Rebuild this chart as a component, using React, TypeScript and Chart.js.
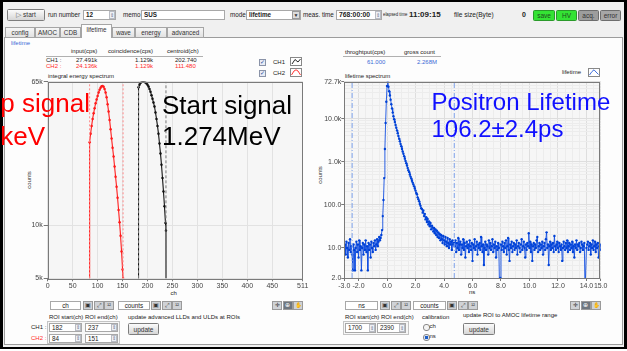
import React, { useEffect, useRef } from 'react';
import { Chart, registerables } from 'chart.js';

Chart.register(...registerables);

const FONT = '"Liberation Sans", Arial, sans-serif';

// ---------- integral energy spectrum (left) ----------
const CH2_CHANNELS = [83, 84, 86, 88, 90, 92, 94, 96, 98, 100, 102, 104, 106, 108, 110, 112, 114, 116, 118, 120, 122, 124, 126, 128, 130, 132, 134, 136, 138, 140, 142, 144, 146, 148, 150, 151];
const CH2_COUNTS = [1, 29500, 33000, 36500, 40000, 43000, 46000, 49000, 51500, 54000, 56500, 58500, 60000, 61300, 61500, 60800, 59000, 56500, 53000, 48500, 44000, 39500, 35000, 31000, 27500, 24500, 21500, 18800, 16500, 14300, 12200, 10400, 8700, 7100, 5600, 5000];
const CH1_CHANNELS = [181, 182, 184, 186, 188, 190, 192, 194, 196, 198, 200, 202, 204, 206, 208, 210, 212, 214, 216, 218, 220, 222, 224, 226, 228, 230, 232, 234, 236, 237, 238];
const CH1_COUNTS = [1, 60500, 62500, 64000, 64800, 65000, 65000, 64800, 64300, 63500, 62500, 61000, 59000, 57000, 54500, 52000, 49500, 47000, 43500, 40000, 36500, 33000, 29000, 25500, 22000, 18500, 15500, 12800, 10300, 9300, 1];
const CH1_ROI = [182, 237];
const CH2_ROI = [84, 151];
const ENERGY_X_TICKS = [0, 50, 100, 150, 200, 250, 300, 350, 400, 450, 511];
const ENERGY_Y_TICKS = [5000, 10000, 65000];
const ENERGY_Y_LABELS = ['5k', '10k', '65k'];

// ---------- lifetime spectrum (right) ----------
const LIFETIME_START_NS = -3.0;
const LIFETIME_BIN_NS = 0.05;
const LIFETIME_COUNTS = [
  // -3.00 .. -0.55
  9, 12, 7, 14, 10, 6, 13, 9, 16, 8,
  11, 7, 3, 12, 9, 3, 10, 14, 8, 12,
  6, 15, 9, 11, 3, 10, 13, 7, 12, 9,
  15, 8, 11, 3, 13, 9, 12, 6, 14, 10,
  8, 13, 11, 15, 9, 12, 16, 11, 14, 18,
  // -0.50 .. -0.05
  15, 17, 20, 26, 55, 130, 420, 2000, 8000, 25000,
  // 0.00 .. 2.40
  58000, 72700, 56000, 44000, 35000, 28000, 22000, 17500, 14000, 11500,
  9800, 8400, 7200, 6200, 5400, 4650, 4000, 3450, 3000, 2620,
  2300, 2000, 1750, 1540, 1350, 1190, 1050, 930, 820, 720,
  640, 585, 510, 455, 410, 365, 330, 300, 270, 240,
  215, 190, 176, 150, 135, 122, 105, 95, 84,
  // 2.45 .. 4.70
  80, 66, 74, 55, 62, 46, 52, 40, 47, 35,
  41, 32, 38, 27, 33, 30, 24, 29, 22, 27,
  20, 25, 18, 23, 17, 21, 15, 20, 16, 13,
  19, 15, 12, 18, 14, 11, 17, 13, 10, 16,
  12, 14, 9, 15, 12, 13,
  // 4.75 .. 15.00
  11, 15, 8, 13, 10, 17, 9, 12, 14, 7,
  12, 10, 16, 9, 13, 6, 11, 14, 10, 12,
  8, 15, 11, 9, 13, 5, 12, 10, 16, 9,
  11, 14, 7, 12, 10, 13, 9, 18, 11, 8,
  12, 4, 10, 14, 9, 12, 11, 7, 15, 10,
  13, 9, 11, 16, 8, 12, 10, 14, 6, 11,
  9, 13, 10, 1, 2, 12, 9, 14, 11, 8,
  13, 10, 15, 7, 11, 17, 9, 5, 12, 10,
  14, 8, 11, 13, 9, 12, 10, 15, 7, 11,
  13, 10, 8, 12, 16, 9, 11, 14, 10, 6,
  12, 9, 13, 11, 22, 10, 14, 8, 12, 5,
  11, 13, 9, 12, 10, 15, 18, 8, 11, 13,
  9, 12, 10, 14, 7, 11, 13, 9, 16, 23,
  10, 12, 4, 11, 14, 9, 12, 10, 13, 8,
  19, 11, 9, 12, 14, 10, 8, 13, 11, 9,
  12, 5, 10, 14, 11, 9, 13, 10, 15, 8,
  11, 13, 9, 12, 10, 14, 8, 11, 6, 12,
  10, 15, 9, 12, 11, 13, 8, 10, 14, 12,
  9, 11, 13, 1, 1, 10, 12, 14, 9, 11,
  13, 7, 12, 10, 15, 9, 11, 14, 8, 12,
  10, 13, 6, 11, 12, 9,
];
const LIFETIME_CURSORS_NS = [-2.45, 4.72];
const LIFETIME_X_TICKS = [-3, -2, 0, 2, 4, 6, 8, 10, 12, 14, 15];
const LIFETIME_X_LABELS = ['-3.0', '-2.0', '0.0', '2.0', '4.0', '6.0', '8.0', '10.0', '12.0', '14.0', '15.0'];
const LIFETIME_Y_TICKS = [2, 10, 100, 1000, 10000, 72700];
const LIFETIME_Y_LABELS = ['2.0', '10.0', '100.0', '1.0k', '10.0k', '72.7k'];

const frame = (bg: string) => ({
  id: 'plotFrame',
  beforeDraw(chart: any) {
    const { ctx, chartArea: a } = chart;
    ctx.save();
    ctx.fillStyle = bg;
    ctx.fillRect(a.left, a.top, a.right - a.left, a.bottom - a.top);
    ctx.restore();
  },
  afterDraw(chart: any) {
    const { ctx, chartArea: a } = chart;
    ctx.save();
    ctx.strokeStyle = '#7a7a7a';
    ctx.lineWidth = 1;
    ctx.strokeRect(Math.round(a.left) + 0.5, Math.round(a.top) + 0.5, Math.round(a.right - a.left) - 1, Math.round(a.bottom - a.top));
    ctx.restore();
  },
});

const pts = (xs: number[], ys: number[]) => xs.map((x, i) => ({ x, y: ys[i] }));
const tickFont = { family: FONT, size: 7 };

function EnergyChart() {
  const ref = useRef<HTMLCanvasElement>(null);
  useEffect(() => {
    const yMin = ENERGY_Y_TICKS[0];
    const yMax = ENERGY_Y_TICKS[ENERGY_Y_TICKS.length - 1];
    const cursor = (x: number, color: string, dash: number[]) => ({
      data: [{ x, y: yMin }, { x, y: yMax }],
      borderColor: color, borderWidth: 1, borderDash: dash, pointRadius: 0,
    });
    const curve = (xs: number[], ys: number[], color: string) => ({
      data: pts(xs, ys),
      borderColor: color, borderWidth: 1.1,
      pointRadius: (c: any) => (c.raw && c.raw.y >= yMin ? 1.25 : 0),
      pointBackgroundColor: color, pointBorderWidth: 0,
    });
    const chart = new Chart(ref.current!, {
      type: 'line',
      data: {
        datasets: [
          cursor(CH2_ROI[0], '#ff8a8a', [2, 2]),
          cursor(CH2_ROI[1], '#ff8a8a', [2, 2]),
          cursor(CH1_ROI[0], '#777777', [3, 2]),
          cursor(CH1_ROI[1], '#777777', [3, 2]),
          curve(CH2_CHANNELS, CH2_COUNTS, '#ff1c1c'),
          curve(CH1_CHANNELS, CH1_COUNTS, '#111111'),
        ] as any,
      },
      options: {
        animation: false,
        responsive: false,
        maintainAspectRatio: false,
        events: [],
        layout: { padding: { left: 0, top: 11.7, right: 9.3, bottom: 0 } },
        plugins: { legend: { display: false }, tooltip: { enabled: false } },
        scales: {
          x: {
            type: 'linear', min: 0, max: 511,
            afterBuildTicks: (s: any) => { s.ticks = ENERGY_X_TICKS.map((v) => ({ value: v })); },
            afterFit: (s: any) => { s.height = 16.7; },
            ticks: { autoSkip: false, maxRotation: 0, minRotation: 0, padding: 1, color: '#444', font: tickFont, callback: (v: any) => String(v) },
            grid: { color: '#e2e2e2', tickLength: 3, tickColor: '#777' },
            border: { display: false },
          },
          y: {
            type: 'logarithmic', min: yMin, max: yMax,
            afterBuildTicks: (s: any) => { s.ticks = ENERGY_Y_TICKS.map((v) => ({ value: v })); },
            afterFit: (s: any) => { s.width = 47.7; },
            ticks: { autoSkip: false, padding: 1, color: '#444', font: tickFont, callback: (v: any) => ENERGY_Y_LABELS[ENERGY_Y_TICKS.indexOf(v)] ?? '' },
            grid: { color: '#e2e2e2', tickLength: 4, tickColor: '#777' },
            border: { display: false },
          },
        },
      } as any,
      plugins: [frame('#f6f6f6')],
    });
    return () => chart.destroy();
  }, []);
  return <canvas ref={ref} width={312} height={225} style={{ position: 'absolute', left: 0, top: 70, width: 312, height: 225 }} />;
}

function LifetimeChart() {
  const ref = useRef<HTMLCanvasElement>(null);
  useEffect(() => {
    const yMin = LIFETIME_Y_TICKS[0];
    const yMax = LIFETIME_Y_TICKS[LIFETIME_Y_TICKS.length - 1];
    const xMin = LIFETIME_X_TICKS[0];
    const xMax = LIFETIME_X_TICKS[LIFETIME_X_TICKS.length - 1];
    const ns = LIFETIME_COUNTS.map((_, i) => LIFETIME_START_NS + i * LIFETIME_BIN_NS);
    // grid helpers (styling only)
    const xGrid: number[] = [];
    for (let v = xMin; v <= xMax + 1e-9; v += 0.5) xGrid.push(Math.round(v * 10) / 10);
    const xAll = Array.from(new Set([...xGrid, ...LIFETIME_X_TICKS])).sort((a, b) => a - b);
    const yAll: number[] = [...LIFETIME_Y_TICKS];
    for (const d of [1, 10, 100, 1000, 10000]) for (let m = 2; m <= 9; m++) { const v = m * d; if (v > yMin && v < yMax && !yAll.includes(v)) yAll.push(v); }
    yAll.sort((a, b) => a - b);
    const isMajX = (v: number) => LIFETIME_X_TICKS.includes(v);
    const isMajY = (v: number) => LIFETIME_Y_TICKS.includes(v);
    const cursor = (x: number) => ({
      data: [{ x, y: yMin }, { x, y: yMax }],
      borderColor: '#7da2ea', borderWidth: 1, borderDash: [5, 2, 1, 2], pointRadius: 0,
    });
    const chart = new Chart(ref.current!, {
      type: 'line',
      data: {
        datasets: [
          ...LIFETIME_CURSORS_NS.map(cursor),
          {
            data: pts(ns, LIFETIME_COUNTS),
            borderColor: 'rgba(20,80,225,0.9)', borderWidth: 1,
            pointRadius: (c: any) => (c.raw && c.raw.y >= yMin ? 1.2 : 0),
            pointBackgroundColor: '#0042d6', pointBorderWidth: 0,
          },
        ] as any,
      },
      options: {
        animation: false,
        responsive: false,
        maintainAspectRatio: false,
        events: [],
        layout: { padding: { left: 0, top: 11.8, right: 26.3, bottom: 0 } },
        plugins: { legend: { display: false }, tooltip: { enabled: false } },
        scales: {
          x: {
            type: 'linear', min: xMin, max: xMax,
            afterBuildTicks: (s: any) => { s.ticks = xAll.map((v) => ({ value: v })); },
            afterFit: (s: any) => { s.height = 17; },
            ticks: {
              autoSkip: false, maxRotation: 0, minRotation: 0, padding: 1, color: '#444', font: tickFont,
              callback: (v: any) => { const i = LIFETIME_X_TICKS.indexOf(v); return i >= 0 ? LIFETIME_X_LABELS[i] : ''; },
            },
            grid: {
              color: (c: any) => (c.tick && isMajX(c.tick.value) ? '#dedede' : '#ececec'),
              tickLength: 3,
              tickColor: (c: any) => (c.tick && isMajX(c.tick.value) ? '#777' : 'rgba(0,0,0,0)'),
            },
            border: { display: false },
          },
          y: {
            type: 'logarithmic', min: yMin, max: yMax,
            afterBuildTicks: (s: any) => { s.ticks = yAll.map((v) => ({ value: v })); },
            afterFit: (s: any) => { s.width = 32.3; },
            ticks: {
              autoSkip: false, padding: 0, color: '#444', font: tickFont,
              callback: (v: any) => { const i = LIFETIME_Y_TICKS.indexOf(v); return i >= 0 ? LIFETIME_Y_LABELS[i] : ''; },
            },
            grid: {
              color: (c: any) => (c.tick && isMajY(c.tick.value) ? '#dedede' : '#ececec'),
              tickLength: 3,
              tickColor: (c: any) => (c.tick && isMajY(c.tick.value) ? '#777' : 'rgba(0,0,0,0)'),
            },
            border: { display: false },
          },
        },
      } as any,
      plugins: [frame('#f6f6f6')],
    });
    return () => chart.destroy();
  }, []);
  return <canvas ref={ref} width={315} height={225} style={{ position: 'absolute', left: 312, top: 70, width: 315, height: 225 }} />;
}

// ---------- small UI helpers ----------
function Txt({ x, y, s = 6.5, c = '#222', b = false, sx = 1, children }: any) {
  return (
    <div style={{ position: 'absolute', left: x, top: y - s * 0.6, fontSize: s, lineHeight: `${s * 1.2}px`, color: c, fontWeight: b ? 700 : 400, whiteSpace: 'nowrap', fontFamily: FONT, transform: sx !== 1 ? `scaleX(${sx})` : undefined, transformOrigin: 'left center' }}>
      {children}
    </div>
  );
}

function Box({ x, y, w, h, bg = '#fff', bd = '#a8a8a8', r = 0, children, style }: any) {
  return (
    <div style={{ position: 'absolute', left: x, top: y, width: w, height: h, boxSizing: 'border-box', background: bg, border: `1px solid ${bd}`, borderRadius: r, overflow: 'hidden', ...style }}>
      {children}
    </div>
  );
}

function Btn({ x, y, w, h, label, bg = 'linear-gradient(#fbfbfb,#d6d6d6)', bd = '#7d7d7d', c = '#333', s = 6.5 }: any) {
  return (
    <Box x={x} y={y} w={w} h={h} bg={bg} bd={bd} r={1.5}>
      <div style={{ width: '100%', height: '100%', display: 'flex', alignItems: 'center', justifyContent: 'center', fontSize: s, color: c, fontFamily: FONT, whiteSpace: 'nowrap' }}>{label}</div>
    </Box>
  );
}

function Spin({ x, y, h = 9 }: any) {
  return (
    <Box x={x} y={y} w={6} h={h} bg="#eef0f4" bd="#b9bcc4">
      <div style={{ fontSize: 5, lineHeight: `${h - 2}px`, textAlign: 'center', color: '#6a7590' }}>⇕</div>
    </Box>
  );
}

function Field({ x, y, w, h = 9, text, b = true, center = false, spin = false, s = 6.3 }: any) {
  return (
    <>
      <Box x={x} y={y} w={w} h={h}>
        <div style={{ fontSize: s, lineHeight: `${h - 2}px`, paddingLeft: center ? 0 : 2, textAlign: center ? 'center' : 'left', fontWeight: b ? 700 : 400, color: '#222', fontFamily: FONT, whiteSpace: 'nowrap' }}>{text}</div>
      </Box>
      {spin ? <Spin x={x + w - 7} y={y + 1} h={h - 2} /> : null}
    </>
  );
}

function Icons({ x, y, glyphs, dark }: any) {
  return (
    <>
      {glyphs.map((g: string, i: number) => (
        <Box key={i} x={x + i * 10.5} y={y} w={10} h={9} bg={dark === i ? '#6f7780' : '#cfd2d6'} bd="#9a9a9a">
          <div style={{ fontSize: 5.5, lineHeight: '7px', textAlign: 'center', color: dark === i ? '#fff' : '#333' }}>{g}</div>
        </Box>
      ))}
    </>
  );
}

function Tab({ x, w, label, sel }: any) {
  return (
    <div style={{ position: 'absolute', left: x, top: sel ? 24 : 26.5, width: w, height: sel ? 14 : 11, boxSizing: 'border-box', border: '1px solid #a5a5a5', borderBottom: sel ? 'none' : '1px solid #a5a5a5', background: sel ? '#fdfdfd' : 'linear-gradient(#f6f6f6,#e2e2e2)', fontSize: 6.3, lineHeight: sel ? '10px' : '9px', textAlign: 'center', color: '#333', fontFamily: FONT, zIndex: sel ? 2 : 1 }}>
      {label}
    </div>
  );
}

function Check({ x, y }: any) {
  return (
    <Box x={x} y={y} w={7} h={7} bg="#e8ecf5" bd="#8a93a8">
      <div style={{ fontSize: 6, lineHeight: '5px', textAlign: 'center', color: '#2b4a9a' }}>✓</div>
    </Box>
  );
}

function LegendIcon({ x, y, color, shape }: any) {
  return (
    <Box x={x} y={y} w={12} h={9} bg="#fff" bd="#888">
      <svg width={10} height={7} style={{ display: 'block' }}>
        <polyline points={shape} fill="none" stroke={color} strokeWidth={0.9} />
      </svg>
    </Box>
  );
}

function Radio({ x, y, on }: any) {
  return (
    <div style={{ position: 'absolute', left: x, top: y, width: 5, height: 5, borderRadius: 3, border: '1px solid #8a8a8a', background: on ? 'radial-gradient(#1d5fc9 45%, #dfe6f3 50%)' : '#f4f4f4' }} />
  );
}

export default function App() {
  const red = '#ff2a2a';
  return (
    <div style={{ position: 'relative', width: 627, height: 351, overflow: 'hidden', background: '#ffffff', fontFamily: FONT }}>
      <style>{'body{margin:0}'}</style>
      {/* window area */}
      <div style={{ position: 'absolute', left: 0, top: 0, width: 627, height: 349, boxSizing: 'border-box', borderStyle: 'solid', borderColor: '#000', borderWidth: '2.5px 3px 2.5px 3px', background: '#f0f0f0' }} />
      {/* toolbar */}
      <Btn x={7} y={9} w={38} h={12} label={<span><span style={{ color: '#666' }}>▷</span> start</span>} />
      <Txt x={48} y={15} s={6.3}>run number</Txt>
      <Field x={83} y={10} w={33} h={10} text="12" spin />
      <Txt x={123} y={15} s={6.3}>memo</Txt>
      <Field x={141} y={10} w={84} h={10} text="SUS" />
      <Txt x={230} y={15} s={6.3}>mode</Txt>
      <Field x={246} y={10} w={55} h={10} text="lifetime" />
      <Box x={292} y={11} w={8} h={8} bg="#dcdcdc" bd="#999"><div style={{ fontSize: 5, lineHeight: '6px', textAlign: 'center', color: '#333' }}>▼</div></Box>
      <Txt x={303} y={15} s={6.3}>meas. time</Txt>
      <Field x={336} y={10} w={46} h={10} text="768:00:00" s={6.8} spin />
      <Txt x={383} y={15} s={6} sx={0.72}>elapsed time</Txt>
      <Txt x={409} y={15} s={8} b>11:09:15</Txt>
      <Txt x={454} y={15} s={6.6}>file size(Byte)</Txt>
      <Txt x={522} y={15} s={7} b>0</Txt>
      <Btn x={533} y={10} w={22} h={11} label="save" bg="#34e334" bd="#2a9a2a" c="#1e4d1e" />
      <Btn x={556} y={10} w={21} h={11} label="HV" bg="#34e334" bd="#2a9a2a" c="#1e4d1e" />
      <Btn x={578} y={10} w={21} h={11} label="acq." bg="#9d9d9d" bd="#6d6d6d" c="#333" />
      <Btn x={600} y={10} w={21} h={11} label="error" bg="#a6a6a6" bd="#6d6d6d" c="#333" />
      {/* panel */}
      <div style={{ position: 'absolute', left: 4, top: 37, width: 619, height: 308, boxSizing: 'border-box', border: '1px solid #9c9c9c', background: '#fdfdfd' }} />
      <Tab x={5} w={30} label="config" />
      <Tab x={35} w={25} label="AMOC" />
      <Tab x={60} w={21} label="CDB" />
      <Tab x={81} w={31} label="lifetime" sel />
      <Tab x={112} w={23} label="wave" />
      <Tab x={135} w={32} label="energy" />
      <Tab x={167} w={37} label="advanced" />
      <Txt x={11} y={43.5} s={6} c="#3a6ad6">lifetime</Txt>

      {/* left header */}
      <Txt x={71} y={51.5} s={6}>input(cps)</Txt>
      <Txt x={108} y={51.5} s={6}>coincidence(cps)</Txt>
      <Txt x={167} y={51.5} s={6}>centroid(ch)</Txt>
      <div style={{ position: 'absolute', left: 46, top: 56, width: 157, height: 1, background: '#b0b0b0' }} />
      <Txt x={46} y={60.8} s={6}>CH1 :</Txt>
      <Txt x={76} y={60.8} s={6}>27.491k</Txt>
      <Txt x={135} y={60.8} s={6}>1.129k</Txt>
      <Txt x={175} y={60.8} s={6}>202.740</Txt>
      <Txt x={46} y={66.3} s={6} c={red}>CH2 :</Txt>
      <Txt x={76} y={66.3} s={6} c={red}>24.136k</Txt>
      <Txt x={135} y={66.3} s={6} c={red}>1.129k</Txt>
      <Txt x={175} y={66.3} s={6} c={red}>111.480</Txt>
      <Check x={259} y={59} />
      <Check x={259} y={70} />
      <Txt x={273} y={62.5} s={6}>CH1</Txt>
      <Txt x={273} y={73.5} s={6}>CH2</Txt>
      <LegendIcon x={290} y={57} color="#111" shape="1,6 4,1.5 7,4 9.5,1" />
      <LegendIcon x={290} y={68} color="#ff2020" shape="0.5,6 3,2 5,0.8 7,2 9.5,6" />
      <Txt x={48} y={76.5} s={6}>integral energy spectrum</Txt>
      <div style={{ position: 'absolute', left: 28.5, top: 180, transform: 'translate(-50%,-50%) rotate(-90deg)', fontSize: 6, color: '#333', whiteSpace: 'nowrap' }}>counts</div>
      <Txt x={170.5} y={294} s={6}>ch</Txt>

      {/* left footer */}
      <Field x={50} y={301} w={31} text="ch" b={false} center />
      <Icons x={83} y={301} glyphs={['▣', '⤢', '¹²']} />
      <Field x={118} y={301} w={32} text="counts" b={false} center />
      <Icons x={151} y={301} glyphs={['▣', '⤢', '¹²']} />
      <Icons x={272} y={301} glyphs={['✛', '⊕', '✋']} dark={1} />
      <Txt x={49} y={317.5} s={6}>ROI start(ch) ROI end(ch)</Txt>
      <Txt x={128} y={317.5} s={6}>update advanced LLDs and ULDs at ROIs</Txt>
      <Box x={47} y={321} w={73} h={23} bg="#f7f7f7" bd="#c4c4c4" />
      <Txt x={31} y={327.5} s={6}>CH1 :</Txt>
      <Txt x={31} y={338.5} s={6} c={red}>CH2 :</Txt>
      <Field x={49} y={323} w={33} text="182" b={false} spin />
      <Field x={85} y={323} w={33} text="237" b={false} spin />
      <Field x={49} y={334} w={33} text="84" b={false} spin />
      <Field x={85} y={334} w={33} text="151" b={false} spin />
      <Btn x={128} y={323} w={31} h={12} label="update" />

      {/* right header */}
      <Txt x={345} y={53} s={6}>throghtput(cps)</Txt>
      <Txt x={404} y={53} s={6}>gross count</Txt>
      <div style={{ position: 'absolute', left: 343, top: 56, width: 98, height: 1, background: '#b0b0b0' }} />
      <Txt x={367} y={62.5} s={6} c="#3a6ad6">61.000</Txt>
      <Txt x={417} y={62.5} s={6} c="#3a6ad6">2.268M</Txt>
      <Txt x={562} y={72.5} s={6}>lifetime</Txt>
      <LegendIcon x={588} y={68} color="#2a5fd8" shape="0.5,6 3,2.5 5,0.8 7,3 9.5,5.5" />
      <Txt x={345} y={76.5} s={6}>lifetime spectrum</Txt>
      <div style={{ position: 'absolute', left: 320, top: 175, transform: 'translate(-50%,-50%) rotate(-90deg)', fontSize: 6, color: '#333', whiteSpace: 'nowrap' }}>counts</div>
      <Txt x={469} y={293} s={6}>ns</Txt>

      {/* right footer */}
      <Field x={345} y={301} w={33} text="ns" b={false} center />
      <Icons x={380} y={301} glyphs={['▣', '⤢', '¹²']} />
      <Field x={413} y={301} w={33} text="counts" b={false} center />
      <Icons x={447} y={301} glyphs={['▣', '⤢', '¹²']} />
      <Icons x={570} y={301} glyphs={['✛', '⊕', '✋']} dark={1} />
      <Txt x={345} y={317.5} s={6}>ROI start(ch) ROI end(ch)</Txt>
      <Txt x={422} y={317.5} s={6}>calibration</Txt>
      <Txt x={463} y={316} s={6}>update ROI to AMOC lifetime range</Txt>
      <Box x={343} y={321} w={66} h={14} bg="#f7f7f7" bd="#c4c4c4" />
      <Field x={345} y={323} w={31} h={10} text="1700" b={false} spin />
      <Field x={377} y={323} w={29} h={10} text="2390" b={false} spin />
      <Radio x={423} y={324} />
      <Txt x={429.5} y={326.8} s={6}>ch</Txt>
      <Radio x={423} y={334} on />
      <Txt x={429.5} y={336.8} s={6}>ns</Txt>
      <Btn x={463} y={323} w={32} h={12} label="update" />

      <EnergyChart />
      <LifetimeChart />

      {/* annotations */}
      <svg width={627} height={351} style={{ position: 'absolute', left: 0, top: 0, zIndex: 10, pointerEvents: 'none' }}>
        <g fontFamily={FONT} fontSize={26}>
          <text x={90} y={112} textAnchor="end" fill="#ff0000">Stop signal</text>
          <text x={45} y={145} textAnchor="end" fill="#ff0000">511keV</text>
          <text x={162} y={114} fill="#000">Start signal</text>
          <text x={162} y={145} fill="#000">1.274MeV</text>
        </g>
        <g fontFamily={FONT} fontSize={24} fill="#1010ff">
          <text x={431.5} y={110}>Positron Lifetime</text>
          <text x={431.5} y={137}>106.2±2.4ps</text>
        </g>
      </svg>
    </div>
  );
}
